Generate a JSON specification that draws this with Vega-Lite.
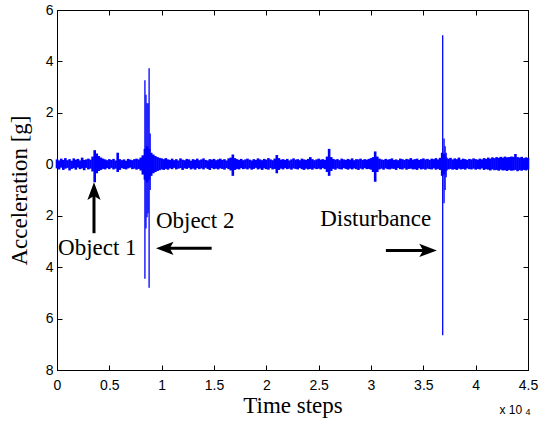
{
 "$schema": "https://vega.github.io/schema/vega-lite/v6.json",
 "width": 471, "height": 360,
 "autosize": {"type": "none"},
 "padding": {"left": 57, "top": 10, "right": 12, "bottom": 51},
 "background": "white",
 "config": {
  "view": {"stroke": "black", "strokeWidth": 1},
  "axis": {"grid": false, "domainColor": "black", "tickColor": "black", "labelColor": "black", "titleColor": "black",
   "labelFont": "Liberation Sans", "labelFontSize": 14, "titleFont": "Liberation Serif", "titleFontSize": 23, "titleFontWeight": "normal",
   "tickSize": -5, "domainWidth": 1, "tickWidth": 1, "labelFlush": false, "labelOverlap": false}
 },
 "datasets": {
  "noise": [
{"t":0,"lo":-0.16,"hi":0.19},{"t":200,"lo":-0.2,"hi":0.15},{"t":400,"lo":-0.13,"hi":0.22},{"t":600,"lo":-0.22,"hi":0.17},{"t":800,"lo":-0.17,"hi":0.24},{"t":1000,"lo":-0.14,"hi":0.16},{"t":1200,"lo":-0.24,"hi":0.2},{"t":1400,"lo":-0.18,"hi":0.14},{"t":1600,"lo":-0.15,"hi":0.23},{"t":1800,"lo":-0.21,"hi":0.18},
{"t":2000,"lo":-0.13,"hi":0.21},{"t":2200,"lo":-0.19,"hi":0.15},{"t":2400,"lo":-0.16,"hi":0.26},{"t":2600,"lo":-0.23,"hi":0.17},{"t":2800,"lo":-0.14,"hi":0.19},{"t":3000,"lo":-0.2,"hi":0.22},{"t":3200,"lo":-0.17,"hi":0.18},{"t":3400,"lo":-0.28,"hi":0.3},{"t":3600,"lo":-0.7,"hi":0.55},{"t":3800,"lo":-0.35,"hi":0.42},
{"t":4000,"lo":-0.26,"hi":0.32},{"t":4200,"lo":-0.22,"hi":0.26},{"t":4400,"lo":-0.18,"hi":0.22},{"t":4600,"lo":-0.2,"hi":0.19},{"t":4800,"lo":-0.15,"hi":0.16},{"t":5000,"lo":-0.19,"hi":0.2},{"t":5200,"lo":-0.14,"hi":0.17},{"t":5400,"lo":-0.2,"hi":0.21},{"t":5600,"lo":-0.17,"hi":0.15},{"t":5800,"lo":-0.3,"hi":0.45},
{"t":6000,"lo":-0.22,"hi":0.2},{"t":6200,"lo":-0.15,"hi":0.16},{"t":6400,"lo":-0.18,"hi":0.19},{"t":6600,"lo":-0.2,"hi":0.14},{"t":6800,"lo":-0.16,"hi":0.21},{"t":7000,"lo":-0.13,"hi":0.18},{"t":7200,"lo":-0.19,"hi":0.16},{"t":7400,"lo":-0.17,"hi":0.2},{"t":7600,"lo":-0.21,"hi":0.22},{"t":7800,"lo":-0.18,"hi":0.19},
{"t":8000,"lo":-0.24,"hi":0.26},{"t":8200,"lo":-0.4,"hi":0.35},{"t":8400,"lo":-0.6,"hi":0.6},{"t":8600,"lo":-0.7,"hi":0.7},{"t":8800,"lo":-0.6,"hi":0.6},{"t":9000,"lo":-0.45,"hi":0.45},{"t":9200,"lo":-0.35,"hi":0.38},{"t":9400,"lo":-0.3,"hi":0.32},{"t":9600,"lo":-0.26,"hi":0.28},{"t":9800,"lo":-0.23,"hi":0.25},
{"t":10000,"lo":-0.2,"hi":0.23},{"t":10200,"lo":-0.22,"hi":0.2},{"t":10400,"lo":-0.18,"hi":0.24},{"t":10600,"lo":-0.21,"hi":0.19},{"t":10800,"lo":-0.16,"hi":0.17},{"t":11000,"lo":-0.19,"hi":0.22},{"t":11200,"lo":-0.14,"hi":0.16},{"t":11400,"lo":-0.2,"hi":0.2},{"t":11600,"lo":-0.17,"hi":0.15},{"t":11800,"lo":-0.15,"hi":0.23},
{"t":12000,"lo":-0.22,"hi":0.18},{"t":12200,"lo":-0.16,"hi":0.16},{"t":12400,"lo":-0.18,"hi":0.21},{"t":12600,"lo":-0.14,"hi":0.19},{"t":12800,"lo":-0.2,"hi":0.14},{"t":13000,"lo":-0.17,"hi":0.2},{"t":13200,"lo":-0.21,"hi":0.17},{"t":13400,"lo":-0.15,"hi":0.22},{"t":13600,"lo":-0.19,"hi":0.16},{"t":13800,"lo":-0.16,"hi":0.19},
{"t":14000,"lo":-0.2,"hi":0.23},{"t":14200,"lo":-0.14,"hi":0.17},{"t":14400,"lo":-0.18,"hi":0.15},{"t":14600,"lo":-0.22,"hi":0.2},{"t":14800,"lo":-0.15,"hi":0.18},{"t":15000,"lo":-0.19,"hi":0.21},{"t":15200,"lo":-0.17,"hi":0.16},{"t":15400,"lo":-0.2,"hi":0.19},{"t":15600,"lo":-0.16,"hi":0.22},{"t":15800,"lo":-0.18,"hi":0.17},
{"t":16000,"lo":-0.21,"hi":0.2},{"t":16200,"lo":-0.15,"hi":0.15},{"t":16400,"lo":-0.19,"hi":0.23},{"t":16600,"lo":-0.24,"hi":0.26},{"t":16800,"lo":-0.45,"hi":0.38},{"t":17000,"lo":-0.22,"hi":0.24},{"t":17200,"lo":-0.18,"hi":0.2},{"t":17400,"lo":-0.2,"hi":0.17},{"t":17600,"lo":-0.15,"hi":0.21},{"t":17800,"lo":-0.19,"hi":0.16},
{"t":18000,"lo":-0.17,"hi":0.19},{"t":18200,"lo":-0.2,"hi":0.22},{"t":18400,"lo":-0.16,"hi":0.18},{"t":18600,"lo":-0.21,"hi":0.15},{"t":18800,"lo":-0.18,"hi":0.2},{"t":19000,"lo":-0.14,"hi":0.17},{"t":19200,"lo":-0.2,"hi":0.23},{"t":19400,"lo":-0.17,"hi":0.19},{"t":19600,"lo":-0.22,"hi":0.16},{"t":19800,"lo":-0.16,"hi":0.21},
{"t":20000,"lo":-0.19,"hi":0.18},{"t":20200,"lo":-0.21,"hi":0.24},{"t":20400,"lo":-0.15,"hi":0.19},{"t":20600,"lo":-0.2,"hi":0.16},{"t":20800,"lo":-0.18,"hi":0.22},{"t":21000,"lo":-0.35,"hi":0.36},{"t":21200,"lo":-0.22,"hi":0.24},{"t":21400,"lo":-0.17,"hi":0.18},{"t":21600,"lo":-0.2,"hi":0.2},{"t":21800,"lo":-0.15,"hi":0.17},
{"t":22000,"lo":-0.19,"hi":0.21},{"t":22200,"lo":-0.17,"hi":0.15},{"t":22400,"lo":-0.21,"hi":0.19},{"t":22600,"lo":-0.16,"hi":0.23},{"t":22800,"lo":-0.18,"hi":0.18},{"t":23000,"lo":-0.2,"hi":0.2},{"t":23200,"lo":-0.15,"hi":0.16},{"t":23400,"lo":-0.19,"hi":0.22},{"t":23600,"lo":-0.22,"hi":0.19},{"t":23800,"lo":-0.17,"hi":0.17},
{"t":24000,"lo":-0.2,"hi":0.21},{"t":24200,"lo":-0.18,"hi":0.28},{"t":24400,"lo":-0.21,"hi":0.2},{"t":24600,"lo":-0.16,"hi":0.16},{"t":24800,"lo":-0.19,"hi":0.19},{"t":25000,"lo":-0.17,"hi":0.22},{"t":25200,"lo":-0.2,"hi":0.18},{"t":25400,"lo":-0.15,"hi":0.2},{"t":25600,"lo":-0.19,"hi":0.17},{"t":25800,"lo":-0.3,"hi":0.3},
{"t":26000,"lo":-0.45,"hi":0.6},{"t":26200,"lo":-0.26,"hi":0.28},{"t":26400,"lo":-0.18,"hi":0.21},{"t":26600,"lo":-0.21,"hi":0.18},{"t":26800,"lo":-0.16,"hi":0.2},{"t":27000,"lo":-0.19,"hi":0.16},{"t":27200,"lo":-0.2,"hi":0.22},{"t":27400,"lo":-0.15,"hi":0.19},{"t":27600,"lo":-0.18,"hi":0.17},{"t":27800,"lo":-0.21,"hi":0.21},
{"t":28000,"lo":-0.17,"hi":0.18},{"t":28200,"lo":-0.2,"hi":0.23},{"t":28400,"lo":-0.16,"hi":0.16},{"t":28600,"lo":-0.19,"hi":0.2},{"t":28800,"lo":-0.22,"hi":0.19},{"t":29000,"lo":-0.17,"hi":0.22},{"t":29200,"lo":-0.2,"hi":0.17},{"t":29400,"lo":-0.15,"hi":0.2},{"t":29600,"lo":-0.19,"hi":0.18},{"t":29800,"lo":-0.18,"hi":0.21},
{"t":30000,"lo":-0.21,"hi":0.24},{"t":30200,"lo":-0.3,"hi":0.28},{"t":30400,"lo":-0.68,"hi":0.5},{"t":30600,"lo":-0.3,"hi":0.3},{"t":30800,"lo":-0.2,"hi":0.22},{"t":31000,"lo":-0.17,"hi":0.19},{"t":31200,"lo":-0.21,"hi":0.17},{"t":31400,"lo":-0.16,"hi":0.21},{"t":31600,"lo":-0.19,"hi":0.18},{"t":31800,"lo":-0.2,"hi":0.2},
{"t":32000,"lo":-0.17,"hi":0.23},{"t":32200,"lo":-0.18,"hi":0.17},{"t":32400,"lo":-0.22,"hi":0.19},{"t":32600,"lo":-0.15,"hi":0.16},{"t":32800,"lo":-0.19,"hi":0.22},{"t":33000,"lo":-0.2,"hi":0.2},{"t":33200,"lo":-0.16,"hi":0.17},{"t":33400,"lo":-0.21,"hi":0.21},{"t":33600,"lo":-0.18,"hi":0.19},{"t":33800,"lo":-0.17,"hi":0.24},
{"t":34000,"lo":-0.2,"hi":0.18},{"t":34200,"lo":-0.19,"hi":0.2},{"t":34400,"lo":-0.22,"hi":0.22},{"t":34600,"lo":-0.16,"hi":0.17},{"t":34800,"lo":-0.2,"hi":0.2},{"t":35000,"lo":-0.18,"hi":0.23},{"t":35200,"lo":-0.21,"hi":0.19},{"t":35400,"lo":-0.17,"hi":0.21},{"t":35600,"lo":-0.19,"hi":0.17},{"t":35800,"lo":-0.2,"hi":0.22},
{"t":36000,"lo":-0.16,"hi":0.2},{"t":36200,"lo":-0.21,"hi":0.24},{"t":36400,"lo":-0.18,"hi":0.19},{"t":36600,"lo":-0.22,"hi":0.25},{"t":36800,"lo":-0.45,"hi":0.45},{"t":37000,"lo":-0.4,"hi":0.4},{"t":37200,"lo":-0.24,"hi":0.26},{"t":37400,"lo":-0.2,"hi":0.22},{"t":37600,"lo":-0.18,"hi":0.25},{"t":37800,"lo":-0.21,"hi":0.19},
{"t":38000,"lo":-0.19,"hi":0.23},{"t":38200,"lo":-0.22,"hi":0.2},{"t":38400,"lo":-0.17,"hi":0.26},{"t":38600,"lo":-0.2,"hi":0.18},{"t":38800,"lo":-0.18,"hi":0.22},{"t":39000,"lo":-0.21,"hi":0.2},{"t":39200,"lo":-0.16,"hi":0.17},{"t":39400,"lo":-0.19,"hi":0.21},{"t":39600,"lo":-0.2,"hi":0.19},{"t":39800,"lo":-0.17,"hi":0.23},
{"t":40000,"lo":-0.21,"hi":0.2},{"t":40200,"lo":-0.18,"hi":0.18},{"t":40400,"lo":-0.2,"hi":0.22},{"t":40600,"lo":-0.16,"hi":0.19},{"t":40800,"lo":-0.22,"hi":0.24},{"t":41000,"lo":-0.19,"hi":0.21},{"t":41200,"lo":-0.21,"hi":0.26},{"t":41400,"lo":-0.24,"hi":0.22},{"t":41600,"lo":-0.2,"hi":0.27},{"t":41800,"lo":-0.23,"hi":0.24},
{"t":42000,"lo":-0.22,"hi":0.28},{"t":42200,"lo":-0.25,"hi":0.25},{"t":42400,"lo":-0.21,"hi":0.29},{"t":42600,"lo":-0.24,"hi":0.26},{"t":42800,"lo":-0.23,"hi":0.3},{"t":43000,"lo":-0.26,"hi":0.27},{"t":43200,"lo":-0.22,"hi":0.28},{"t":43400,"lo":-0.25,"hi":0.3},{"t":43600,"lo":-0.24,"hi":0.29},{"t":43800,"lo":-0.22,"hi":0.4},
{"t":44000,"lo":-0.27,"hi":0.28},{"t":44200,"lo":-0.23,"hi":0.26},{"t":44400,"lo":-0.25,"hi":0.29},{"t":44600,"lo":-0.22,"hi":0.24},{"t":44800,"lo":-0.24,"hi":0.27},{"t":45000,"lo":-0.21,"hi":0.25}
  ],
  "spikes": [
   {"t":8400,"lo":-4.45,"hi":3.27},
   {"t":8500,"lo":-2.5,"hi":2.7},
   {"t":8600,"lo":-2.06,"hi":2.37},
   {"t":8700,"lo":-1.9,"hi":2.37},
   {"t":8800,"lo":-4.8,"hi":3.73},
   {"t":8900,"lo":-1.0,"hi":1.2},
   {"t":36850,"lo":-6.65,"hi":5.02},
   {"t":36980,"lo":-1.52,"hi":1.0},
   {"t":37080,"lo":-1.0,"hi":0.7},
   {"t":37180,"lo":-0.5,"hi":0.45}
  ],
  "arrows": [
   {"name":"Object 1","x1":3534,"y1":-2.68,"x2":3534,"y2":-1.13,"dir":"up"},
   {"name":"Object 2","x1":14775,"y1":-3.27,"x2":10506,"y2":-3.27,"dir":"left"},
   {"name":"Disturbance","x1":31423,"y1":-3.35,"x2":35244,"y2":-3.35,"dir":"right"}
  ],
  "labels": [
   {"text":"Object 1","t":3850,"v":-3.27},
   {"text":"Object 2","t":13200,"v":-2.22},
   {"text":"Disturbance","t":30450,"v":-2.14}
  ]
 },
 "layer": [
  {
   "data": {"name": "noise"},
   "mark": {"type": "rule", "color": "#0000ff", "strokeWidth": 2.6},
   "encoding": {
    "x": {"field": "t", "type": "quantitative", "scale": {"domain": [0, 45000], "nice": false},
     "axis": {"orient": "bottom", "values": [0,5000,10000,15000,20000,25000,30000,35000,40000,45000], "labelExpr": "datum.value/10000", "title": "Time steps", "labelPadding": 13, "titlePadding": 2}},
    "y": {"field": "lo", "type": "quantitative", "scale": {"domain": [-8, 6], "nice": false},
     "axis": {"orient": "left", "values": [-8,-6,-4,-2,0,2,4,6], "labelExpr": "abs(datum.value)", "title": "Acceleration [g]", "labelPadding": 9, "titlePadding": 14}},
    "y2": {"field": "hi"}
   }
  },
  {
   "data": {"name": "spikes"},
   "mark": {"type": "rule", "color": "#0000ff", "strokeWidth": 1.3},
   "encoding": {
    "x": {"field": "t", "type": "quantitative", "axis": {"orient": "top", "values": [0,5000,10000,15000,20000,25000,30000,35000,40000,45000], "labels": false, "title": null}},
    "y": {"field": "lo", "type": "quantitative", "axis": {"orient": "right", "values": [-8,-6,-4,-2,0,2,4,6], "labels": false, "title": null}},
    "y2": {"field": "hi"}
   }
  },
  {
   "data": {"name": "arrows"},
   "mark": {"type": "rule", "color": "black", "strokeWidth": 3},
   "encoding": {
    "x": {"field": "x1", "type": "quantitative", "axis": null},
    "x2": {"field": "x2"},
    "y": {"field": "y1", "type": "quantitative", "axis": null},
    "y2": {"field": "y2"}
   }
  },
  {
   "data": {"name": "arrows"},
   "transform": [{"filter": "datum.dir == 'up'"}],
   "mark": {"type": "point", "shape": "M0,-1L0.6,0.6L0,0.25L-0.6,0.6Z", "filled": true, "color": "black", "opacity": 1, "size": 484, "strokeWidth": 0, "angle": 0},
   "encoding": {
    "x": {"field": "x2", "type": "quantitative", "axis": null},
    "y": {"field": "y2", "type": "quantitative", "axis": null}
   }
  },
  {
   "data": {"name": "arrows"},
   "transform": [{"filter": "datum.dir == 'left'"}],
   "mark": {"type": "point", "shape": "M0,-1L0.6,0.6L0,0.25L-0.6,0.6Z", "filled": true, "color": "black", "opacity": 1, "size": 484, "strokeWidth": 0, "angle": 270},
   "encoding": {
    "x": {"field": "x2", "type": "quantitative", "axis": null},
    "y": {"field": "y2", "type": "quantitative", "axis": null}
   }
  },
  {
   "data": {"name": "arrows"},
   "transform": [{"filter": "datum.dir == 'right'"}],
   "mark": {"type": "point", "shape": "M0,-1L0.6,0.6L0,0.25L-0.6,0.6Z", "filled": true, "color": "black", "opacity": 1, "size": 484, "strokeWidth": 0, "angle": 90},
   "encoding": {
    "x": {"field": "x2", "type": "quantitative", "axis": null},
    "y": {"field": "y2", "type": "quantitative", "axis": null}
   }
  },
  {
   "data": {"name": "labels"},
   "mark": {"type": "text", "font": "Liberation Serif", "fontSize": 23, "color": "black", "align": "center", "baseline": "middle"},
   "encoding": {
    "x": {"field": "t", "type": "quantitative", "axis": null},
    "y": {"field": "v", "type": "quantitative", "axis": null},
    "text": {"field": "text"}
   }
  },
  {
   "data": {"values": [{"text": "x 10", "t": 43362, "v": -9.57}]},
   "mark": {"type": "text", "font": "Liberation Sans", "fontSize": 12, "color": "black", "align": "center", "baseline": "middle"},
   "encoding": {
    "x": {"field": "t", "type": "quantitative", "axis": null},
    "y": {"field": "v", "type": "quantitative", "axis": null},
    "text": {"field": "text"}
   }
  },
  {
   "data": {"values": [{"text": "4", "t": 44990, "v": -9.62}]},
   "mark": {"type": "text", "font": "Liberation Sans", "fontSize": 9, "color": "black", "align": "center", "baseline": "middle"},
   "encoding": {
    "x": {"field": "t", "type": "quantitative", "axis": null},
    "y": {"field": "v", "type": "quantitative", "axis": null},
    "text": {"field": "text"}
   }
  }
 ],
 "resolve": {"axis": {"x": "independent", "y": "independent"}}
}
